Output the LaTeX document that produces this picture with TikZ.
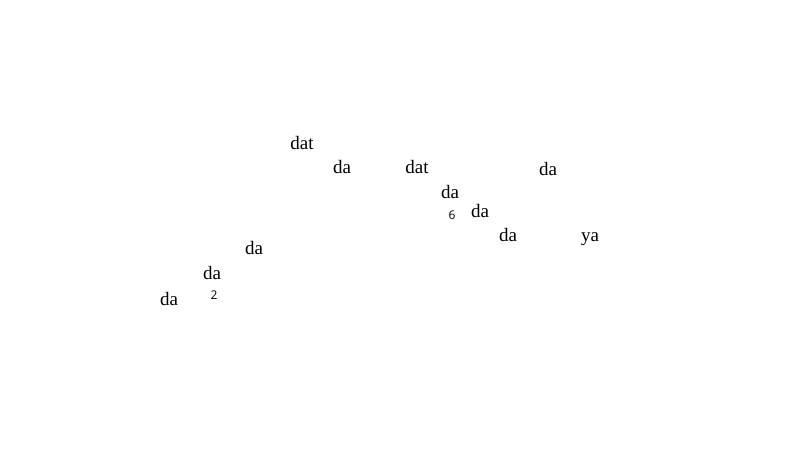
\documentclass[tikz,border=0pt]{standalone}
\usepackage{fontspec}
\setmainfont{Liberation Serif}
\newfontfamily\numfont{Open Sans}
\begin{document}
\begin{tikzpicture}[x=1pt,y=-1pt,
  lbl/.style={inner sep=0pt,anchor=base,font=\fontsize{19}{21}\selectfont},
  num/.style={inner sep=0pt,anchor=base,font=\numfont\fontsize{12}{14}\selectfont}]
\useasboundingbox[fill=white] (0,0) rectangle (800,450);
\node[lbl] (t1) at (302,149) {dat};
\node[lbl] (t2) at (342,173) {da};
\node[lbl] (t3) at (417,173) {dat};
\node[lbl] (t4) at (548,175) {da};
\node[lbl] (t5) at (450,198) {da};
\node[num] (n6) at (452,219) {6};
\node[lbl] (t6) at (480,217) {da};
\node[lbl] (t7) at (508,241) {da};
\node[lbl] (t8) at (590,241) {ya};
\node[lbl] (t9) at (254,254) {da};
\node[lbl] (t10) at (212,279) {da};
\node[num] (n2) at (214,299) {2};
\node[lbl] (t11) at (169,305) {da};
\end{tikzpicture}
\end{document}
